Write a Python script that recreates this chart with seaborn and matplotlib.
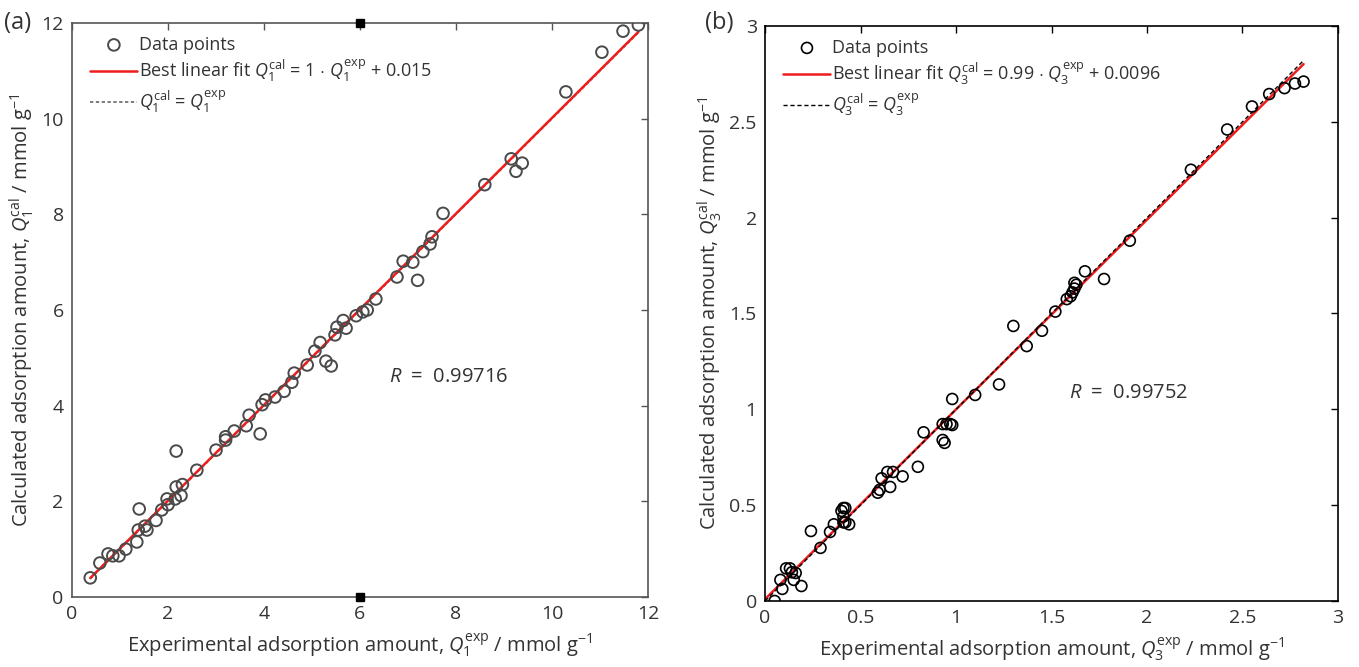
import numpy as np
import pandas as pd
import seaborn as sns
import matplotlib
matplotlib.use("Agg")
import matplotlib.pyplot as plt

# ---------------- data ----------------
q1_exp = [0.38, 0.58, 0.75, 0.85, 0.98, 1.12, 1.35, 1.4, 1.38, 1.52, 1.56, 1.75, 1.87,
          1.98, 2.0, 2.15, 2.17, 2.17, 2.27, 2.3, 2.6, 3.0, 3.2, 3.2, 3.38, 3.63, 3.69,
          3.92, 3.96, 4.03, 4.23, 4.42, 4.58, 4.63, 4.9, 5.06, 5.17, 5.29, 5.4, 5.48,
          5.52, 5.65, 5.71, 5.92, 6.06, 6.15, 6.33, 6.77, 6.9, 7.1, 7.2, 7.31, 7.46,
          7.5, 7.73, 8.6, 9.15, 9.25, 9.38, 10.29, 11.04, 11.48, 11.8]
q1_cal = [0.4, 0.71, 0.9, 0.86, 0.86, 1.0, 1.15, 1.84, 1.4, 1.48, 1.4, 1.6, 1.82,
          2.05, 1.93, 2.05, 3.05, 2.3, 2.12, 2.35, 2.65, 3.07, 3.35, 3.28, 3.47, 3.58, 3.8,
          3.41, 4.02, 4.12, 4.18, 4.3, 4.49, 4.68, 4.85, 5.14, 5.32, 4.93, 4.83, 5.48,
          5.64, 5.78, 5.62, 5.88, 5.96, 6.0, 6.23, 6.69, 7.02, 7.0, 6.62, 7.22, 7.38,
          7.53, 8.02, 8.62, 9.16, 8.9, 9.07, 10.56, 11.39, 11.83, 11.96]

q3_exp = [0.05, 0.08, 0.09, 0.11, 0.13, 0.14, 0.15, 0.16, 0.19, 0.24, 0.29, 0.34, 0.36,
          0.40, 0.41, 0.42, 0.41, 0.42, 0.41, 0.44, 0.59, 0.60, 0.61, 0.64, 0.67, 0.655,
          0.72, 0.80, 0.83, 0.93, 0.94, 0.93, 0.95, 0.97, 0.98, 0.98, 1.10, 1.225,
          1.30, 1.37, 1.45, 1.52, 1.58, 1.60, 1.61, 1.62, 1.63, 1.62, 1.675, 1.775, 1.91,
          2.23, 2.42, 2.55, 2.64, 2.72, 2.775, 2.82]
q3_cal = [0.0, 0.11, 0.063, 0.17, 0.17, 0.15, 0.11, 0.146, 0.078, 0.365, 0.277, 0.36, 0.40,
          0.47, 0.485, 0.485, 0.44, 0.41, 0.41, 0.40, 0.565, 0.58, 0.64, 0.673, 0.673, 0.595,
          0.65, 0.70, 0.88, 0.84, 0.825, 0.923, 0.923, 0.923, 0.918, 1.054, 1.075, 1.13,
          1.435, 1.33, 1.41, 1.51, 1.575, 1.59, 1.61, 1.63, 1.65, 1.66, 1.72, 1.68, 1.88,
          2.25, 2.46, 2.58, 2.645, 2.676, 2.70, 2.71]

fit1_slope, fit1_icpt = 1.0, 0.015
fit3_slope, fit3_icpt = 0.99, 0.0096
r1_text = "0.99716"
r3_text = "0.99752"

ticks_a = [0, 2, 4, 6, 8, 10, 12]
ticks_b = [0, 0.5, 1, 1.5, 2, 2.5, 3]
ticklabels_b = ["0", "0.5", "1", "1.5", "2", "2.5", "3"]

# ---------------- style ----------------
sns.set_theme(style="white")
FONT = "Open Sans"
plt.rcParams["font.family"] = [FONT, "DejaVu Sans"]
plt.rcParams["mathtext.fontset"] = "custom"
plt.rcParams["mathtext.rm"] = FONT
plt.rcParams["mathtext.it"] = FONT + ":italic"
plt.rcParams["mathtext.bf"] = FONT + ":bold"

fig = plt.figure(figsize=(13.59, 6.67), dpi=100)
axA = fig.add_axes([0.053, 0.105, 0.4238, 0.8605])
axB = fig.add_axes([0.563, 0.099, 0.4215, 0.862])

TXT = "#333333"


def style_axes(ax, spine_col):
    for s in ax.spines.values():
        s.set_visible(True)
        s.set_color(spine_col)
        s.set_linewidth(1.2)
    ax.tick_params(direction="in", top=True, right=True, length=5, width=1.0,
                   color=spine_col, labelsize=14, labelcolor=TXT, pad=6)


# ---------------- panel (a) ----------------
dfA = pd.DataFrame({"exp": q1_exp, "cal": q1_cal})
sns.scatterplot(data=dfA, x="exp", y="cal", ax=axA, marker="o", s=70,
                facecolor="none", edgecolor="#4a4a4a", linewidth=1.4,
                label="Data points", zorder=3)
xa = np.array([min(q1_exp), max(q1_exp)])
axA.plot(xa, fit1_slope * xa + fit1_icpt, color="#ee1c1c", lw=1.8, zorder=2,
         label=r"Best linear fit $Q_1^{\mathrm{cal}}$ = 1 $\cdot$ $Q_1^{\mathrm{exp}}$ + 0.015")
axA.plot(xa, xa, color="#666666", lw=1.2, ls=(0, (2, 1.5)), zorder=1,
         label=r"$Q_1^{\mathrm{cal}}$ = $Q_1^{\mathrm{exp}}$")
axA.set_xlim(0, 12)
axA.set_ylim(0, 12)
axA.set_xticks(ticks_a)
axA.set_yticks(ticks_a)
style_axes(axA, "#555555")
axA.plot([6, 6], [0, 12], ls="none", marker="s", ms=5.5, color="black",
         clip_on=False, zorder=5)
axA.set_xlabel(r"Experimental adsorption amount, $Q_1^{\mathrm{exp}}$ / mmol g$^{-1}$",
               fontsize=14.5, color=TXT, labelpad=6)
axA.set_ylabel(r"Calculated adsorption amount, $Q_1^{\mathrm{cal}}$ / mmol g$^{-1}$",
               fontsize=14.5, color=TXT, labelpad=4)
axA.text(6.6, 4.6, r"$R$  =  " + r1_text, fontsize=14.5, color=TXT, va="center")
legA = axA.legend(loc="upper left", frameon=False, fontsize=13, handlelength=2.6,
                  handletextpad=0.1, borderaxespad=0.3, labelspacing=0.25,
                  bbox_to_anchor=(0.01, 1.0))
for t in legA.get_texts():
    t.set_color(TXT)
fig.text(0.003, 0.965, "(a)", fontsize=17, color=TXT, va="center")

# ---------------- panel (b) ----------------
dfB = pd.DataFrame({"exp": q3_exp, "cal": q3_cal})
sns.scatterplot(data=dfB, x="exp", y="cal", ax=axB, marker="o", s=62,
                facecolor="none", edgecolor="black", linewidth=1.2,
                label="Data points", zorder=3)
xb = np.array([0.0, max(q3_exp)])
axB.plot(xb, fit3_slope * xb + fit3_icpt, color="#ee1c1c", lw=1.8, zorder=2,
         label=r"Best linear fit $Q_3^{\mathrm{cal}}$ = 0.99 $\cdot$ $Q_3^{\mathrm{exp}}$ + 0.0096")
axB.plot(xb, xb, color="black", lw=1.0, ls=(0, (3, 2)), zorder=2.5,
         label=r"$Q_3^{\mathrm{cal}}$ = $Q_3^{\mathrm{exp}}$")
axB.set_xlim(0, 3)
axB.set_ylim(0, 3)
axB.set_xticks(ticks_b)
axB.set_xticklabels(ticklabels_b)
axB.set_yticks(ticks_b)
axB.set_yticklabels(ticklabels_b)
style_axes(axB, "black")
axB.set_xlabel(r"Experimental adsorption amount, $Q_3^{\mathrm{exp}}$ / mmol g$^{-1}$",
               fontsize=14.5, color=TXT, labelpad=6)
axB.set_ylabel(r"Calculated adsorption amount, $Q_3^{\mathrm{cal}}$ / mmol g$^{-1}$",
               fontsize=14.5, color=TXT, labelpad=4)
axB.text(1.59, 1.085, r"$R$  =  " + r3_text, fontsize=14.5, color=TXT, va="center")
legB = axB.legend(loc="upper left", frameon=False, fontsize=13, handlelength=2.6,
                  handletextpad=0.1, borderaxespad=0.3, labelspacing=0.25,
                  bbox_to_anchor=(0.01, 1.0))
for t in legB.get_texts():
    t.set_color(TXT)
fig.text(0.519, 0.965, "(b)", fontsize=17, color=TXT, va="center")

fig.savefig("out.png", dpi=100)
